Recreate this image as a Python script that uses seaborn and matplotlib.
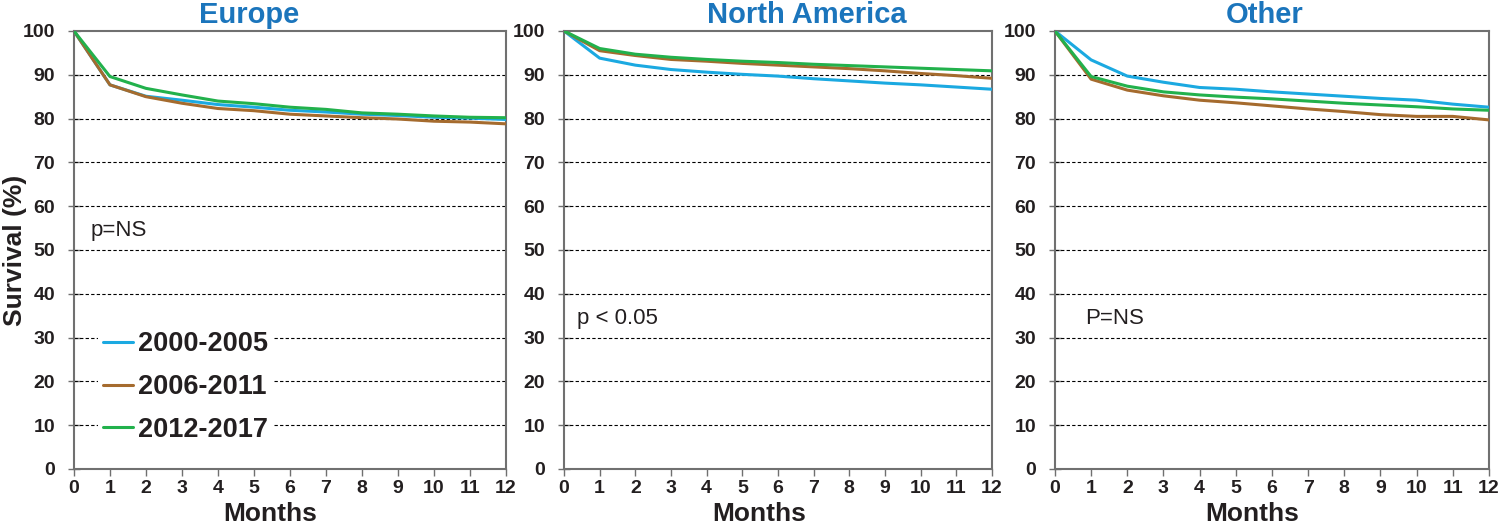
import numpy as np
import pandas as pd
import matplotlib
matplotlib.use("Agg")
import matplotlib.pyplot as plt
import seaborn as sns

# --- data ---
months = list(range(13))
periods = ["2000-2005", "2006-2011", "2012-2017"]
regions = ["Europe", "North America", "Other"]
p_texts = ["p=NS", "p < 0.05", "P=NS"]

europe_2000 = [100, 87.7, 85.1, 84.2, 83.2, 82.6, 81.9, 81.5, 81.0, 80.7, 80.3, 80.1, 79.8]
europe_2006 = [100, 87.7, 85.0, 83.5, 82.3, 81.8, 81.0, 80.6, 80.2, 79.9, 79.4, 79.2, 78.8]
europe_2012 = [100, 89.6, 86.9, 85.4, 84.0, 83.4, 82.6, 82.1, 81.3, 81.0, 80.6, 80.3, 80.2]

na_2000 = [100, 93.8, 92.2, 91.2, 90.6, 90.1, 89.7, 89.1, 88.6, 88.1, 87.7, 87.2, 86.7]
na_2006 = [100, 95.5, 94.4, 93.5, 93.1, 92.6, 92.2, 91.8, 91.4, 90.9, 90.3, 89.8, 89.2]
na_2012 = [100, 96.0, 94.7, 94.0, 93.5, 93.1, 92.8, 92.4, 92.1, 91.8, 91.5, 91.2, 90.9]

other_2000 = [100, 93.4, 89.7, 88.3, 87.1, 86.7, 86.1, 85.6, 85.1, 84.6, 84.2, 83.3, 82.6]
other_2006 = [100, 89.0, 86.5, 85.2, 84.2, 83.6, 82.9, 82.2, 81.6, 80.9, 80.5, 80.5, 79.7]
other_2012 = [100, 89.6, 87.4, 86.1, 85.4, 84.9, 84.5, 84.0, 83.5, 83.1, 82.7, 82.2, 81.9]

series = {
    "Europe": [europe_2000, europe_2006, europe_2012],
    "North America": [na_2000, na_2006, na_2012],
    "Other": [other_2000, other_2006, other_2012],
}

rows = []
for region in regions:
    for period, vals in zip(periods, series[region]):
        for m, v in zip(months, vals):
            rows.append({"region": region, "period": period, "month": m, "survival": v})
df = pd.DataFrame(rows)

palette = {"2000-2005": "#1ba9e1", "2006-2011": "#a56b2e", "2012-2017": "#22b14c"}
title_color = "#1b75bc"
spine_color = "#707070"
text_color = "#231f20"

sns.set_style("white")
plt.rcParams["font.family"] = ["Liberation Sans", "DejaVu Sans"]

fig = plt.figure(figsize=(15, 5.26), dpi=100)
axes_pos = [
    [0.0493, 0.1084, 0.2880, 0.8327],
    [0.3760, 0.1084, 0.2853, 0.8327],
    [0.7033, 0.1084, 0.2893, 0.8327],
]
title_x = [0.405, 0.568, 0.484]
p_pos = [(0.45, 54.5), (0.36, 34.4), (0.83, 34.4)]

for i, region in enumerate(regions):
    ax = fig.add_axes(axes_pos[i])
    sub = df[df["region"] == region]
    sns.lineplot(data=sub, x="month", y="survival", hue="period",
                 hue_order=periods, palette=palette, linewidth=2.2,
                 ax=ax, legend=(i == 0), zorder=3)

    ax.set_xlim(0, 12)
    ax.set_ylim(0, 100)
    ax.set_xticks(range(13))
    ax.set_yticks(range(0, 101, 10))
    for y in range(10, 100, 10):
        ax.axhline(y, color="black", linestyle=(0, (3, 2)), linewidth=0.8, zorder=1)

    for s in ax.spines.values():
        s.set_visible(True)
        s.set_color(spine_color)
        s.set_linewidth(1.5)

    ax.tick_params(axis="y", direction="inout", length=9, width=1.0, color=spine_color,
                   labelsize=14, pad=9, left=True)
    ax.tick_params(axis="x", direction="out", length=5, width=1.0, color=spine_color,
                   labelsize=14, pad=3, bottom=True)
    for lab in ax.get_xticklabels() + ax.get_yticklabels():
        lab.set_fontweight("bold")
        lab.set_color(text_color)

    ax.set_title(region, color=title_color, fontsize=21, fontweight="bold", pad=6, x=title_x[i])
    ax.set_xlabel("Months", fontsize=19, fontweight="bold", color=text_color)
    ax.xaxis.set_label_coords(0.455, -0.075)
    if i == 0:
        ax.set_ylabel("Survival (%)", fontsize=19, fontweight="bold", color=text_color)
        ax.yaxis.set_label_coords(-0.108, 0.5)
    else:
        ax.set_ylabel("")

    ax.text(p_pos[i][0], p_pos[i][1], p_texts[i], fontsize=16, ha="left", va="center",
            color=text_color, zorder=4)

    if i == 0:
        leg = ax.legend(loc="center left", bbox_to_anchor=(0.055, 0.187), frameon=True,
                        fontsize=19.5, handlelength=1.1, handletextpad=0.2,
                        labelspacing=0.62, borderpad=0.2, borderaxespad=0.0)
        leg.get_frame().set_facecolor("white")
        leg.get_frame().set_edgecolor("none")
        leg.get_frame().set_alpha(1.0)
        leg.set_zorder(5)
        for t in leg.get_texts():
            t.set_fontweight("bold")
            t.set_color(text_color)
        for h in leg.get_lines():
            h.set_linewidth(2.2)

fig.savefig("out.png", dpi=100)
